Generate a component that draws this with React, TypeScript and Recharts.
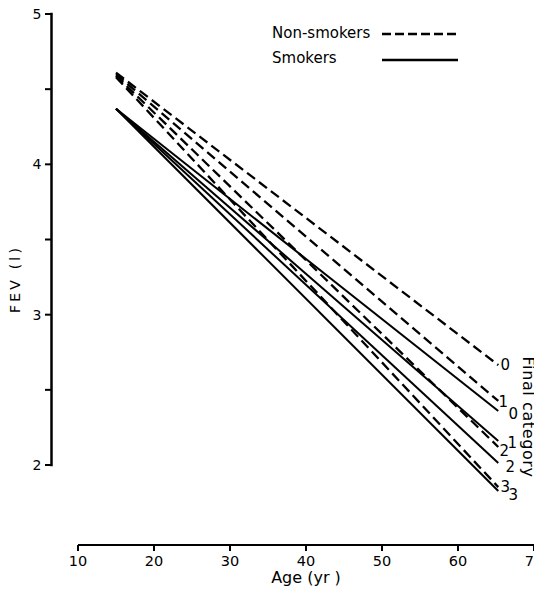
import { LineChart, Line, XAxis, YAxis, ReferenceLine, LabelList } from 'recharts';

// Regression lines of FEV on age, one per final category
const AGES = [15, 65.3];
const CATEGORIES = ['0', '1', '2', '3'];
const NON_SMOKER_START = [4.61, 4.6, 4.59, 4.58];
const NON_SMOKER_END = [2.665, 2.426, 2.12, 1.853];
const SMOKER_START = [4.37, 4.37, 4.37, 4.37];
const SMOKER_END = [2.359, 2.16, 2.013, 1.827];

const X_TICKS = [10, 20, 30, 40, 50, 60, 70];
const Y_TICKS = [2, 2.5, 3, 3.5, 4, 4.5, 5];
const Y_LABELED = [2, 3, 4, 5];
const Y_MIN = 1.468; // where the (detached) x axis sits

const FONT = '"DejaVu Sans", sans-serif';
const W = 542;
const H = 596;
const PLOT_LEFT = 78;
const PLOT_RIGHT = 8;
const Y_SHIFT = 26.5; // y axis sits left of where the x axis starts
const X_PX_PER_YEAR = (W - PLOT_LEFT - PLOT_RIGHT) / 60;
const Y_AXIS_AGE = 10 - Y_SHIFT / X_PX_PER_YEAR;

// end label offsets (px) from the line end
const NS_LABEL_OFFSET = [[7, 0], [5, 1], [6, 4], [7, -1]];
const S_LABEL_OFFSET = [[15, 3], [14, 1.5], [12, 4], [15, 4]];

const rows = AGES.map((age, i) => {
  const row: Record<string, number> = { age };
  CATEGORIES.forEach((c, k) => {
    row['ns' + c] = i === 0 ? NON_SMOKER_START[k] : NON_SMOKER_END[k];
    row['s' + c] = i === 0 ? SMOKER_START[k] : SMOKER_END[k];
  });
  return row;
});

function YTick(props: any) {
  const { x, y, payload } = props;
  const ax = x - Y_SHIFT;
  const major = Y_LABELED.includes(payload.value);
  return (
    <g>
      <line x1={ax - 6.5} x2={ax} y1={y} y2={y} stroke="#000" strokeWidth={2} />
      {major && (
        <text x={ax - 10} y={y} dy="0.36em" textAnchor="end" fontSize={14} fontFamily={FONT} fill="#000">
          {payload.value}
        </text>
      )}
    </g>
  );
}

function endLabel(text: string, offset: number[]) {
  return (p: any) => {
    if (p.index !== AGES.length - 1) return null;
    return (
      <text
        x={p.x + offset[0]}
        y={p.y + offset[1]}
        dy="0.36em"
        textAnchor="middle"
        fontSize={15}
        fontFamily={FONT}
        fill="#000"
      >
        {text}
      </text>
    );
  };
}

const fevLabel = () => (
  <text
    transform="translate(20, 279) rotate(-90)"
    textAnchor="middle"
    fontSize={14}
    letterSpacing={3.2}
    fontFamily={FONT}
    fill="#000"
  >
    FEV (l)
  </text>
);

export default function App() {
  // cancel the page's 8px body margin so chart pixels equal page pixels
  return (
    <div style={{ position: 'relative', width: W, height: H, margin: -8 }}>
      <LineChart width={W} height={H} data={rows} margin={{ top: 14, right: PLOT_RIGHT, bottom: 0, left: 0 }}>
        <XAxis
          dataKey="age"
          type="number"
          domain={[10, 70]}
          ticks={X_TICKS}
          interval={0}
          allowDataOverflow
          height={51}
          axisLine={{ stroke: '#000', strokeWidth: 2 }}
          tickLine={{ stroke: '#000', strokeWidth: 2 }}
          tickSize={6}
          tickMargin={5}
          tick={{ fill: '#000', fontSize: 14.5, fontFamily: FONT }}
          label={{ value: 'Age (yr )', position: 'insideBottom', offset: 13, fill: '#000', fontSize: 16, fontFamily: FONT }}
        />
        <YAxis
          type="number"
          domain={[Y_MIN, 5]}
          ticks={Y_TICKS}
          interval={0}
          allowDataOverflow
          width={PLOT_LEFT}
          axisLine={false}
          tickLine={false}
          tickSize={0}
          tickMargin={0}
          tick={YTick}
          label={fevLabel}
        />
        <ReferenceLine
          segment={[{ x: Y_AXIS_AGE, y: 2 }, { x: Y_AXIS_AGE, y: 5 }]}
          stroke="#000"
          strokeWidth={2.5}
          strokeLinecap="square"
          ifOverflow="visible"
        />
        {CATEGORIES.map((c, k) => (
          <Line
            key={'ns' + c}
            dataKey={'ns' + c}
            stroke="#000"
            strokeWidth={2.3}
            strokeDasharray="10 5"
            dot={false}
            isAnimationActive={false}
          >
            <LabelList dataKey={'ns' + c} content={endLabel(c, NS_LABEL_OFFSET[k])} />
          </Line>
        ))}
        {CATEGORIES.map((c, k) => (
          <Line
            key={'s' + c}
            dataKey={'s' + c}
            stroke="#000"
            strokeWidth={2}
            dot={false}
            isAnimationActive={false}
          >
            <LabelList dataKey={'s' + c} content={endLabel(c, S_LABEL_OFFSET[k])} />
          </Line>
        ))}
      </LineChart>
      <svg
        width={W}
        height={H}
        style={{ position: 'absolute', left: 0, top: 0, pointerEvents: 'none' }}
        fontFamily={FONT}
        fill="#000"
      >
        <text x={272} y={33} dy="0.36em" fontSize={15}>Non-smokers</text>
        <line x1={382} x2={458} y1={34} y2={34} stroke="#000" strokeWidth={2.5} strokeDasharray="9 4" />
        <text x={272} y={58} dy="0.36em" fontSize={15}>Smokers</text>
        <line x1={382} x2={458} y1={60} y2={60} stroke="#000" strokeWidth={2.5} />
        <text transform="translate(523, 417) rotate(90)" textAnchor="middle" fontSize={16} letterSpacing={0.6}>
          Final category
        </text>
      </svg>
    </div>
  );
}
